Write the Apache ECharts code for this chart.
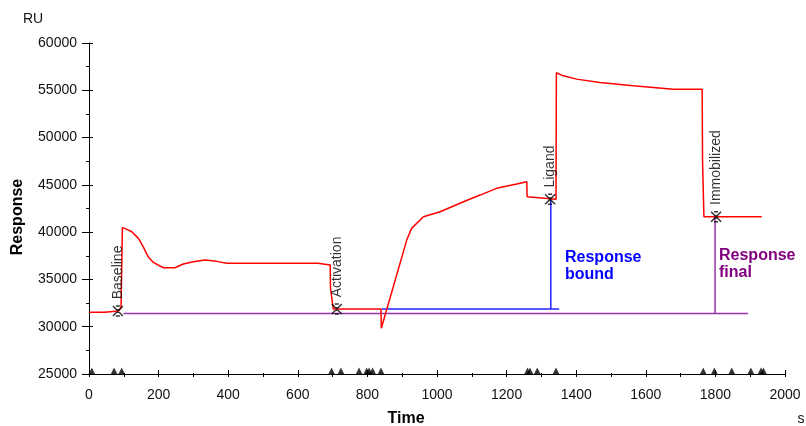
<!DOCTYPE html>
<html>
<head>
<meta charset="utf-8">
<script src="https://cdn.jsdelivr.net/npm/echarts@6/dist/echarts.min.js"></script>
<style>html,body{margin:0;padding:0;background:#fff}#c{width:806px;height:426px}</style>
</head>
<body>
<div id="c"></div>
<script>
// Sensorgram curve (time s, response RU)
var curveT = [0, 45, 46, 85, 92, 96, 103, 123, 142, 156, 170, 185, 204, 214, 247, 271, 300, 333, 367, 396, 658, 659, 693, 694, 702, 839, 840, 844, 913, 927, 961, 1009, 1076, 1124, 1171, 1229, 1258, 1259, 1342, 1343, 1358, 1401, 1468, 1564, 1679, 1762, 1763, 1766, 1767, 1933];
var curveR = [31520, 31520, 31660, 31660, 32000, 40460, 40400, 40040, 39340, 38450, 37400, 36800, 36420, 36240, 36240, 36630, 36870, 37050, 36910, 36700, 36700, 36520, 36520, 34060, 31870, 31870, 29830, 29830, 39160, 40400, 41630, 42160, 43210, 43920, 44630, 45080, 45330, 43740, 43470, 56850, 56600, 56180, 55830, 55470, 55120, 55120, 47620, 47620, 41630, 41630];
// Report point markers
var markNames = ['Baseline', 'Activation', 'Ligand', 'Immobilized'];
var markT = [83, 712, 1325, 1802];
var markR = [31660, 31870, 43470, 41630];
// Event triangles on the time axis
var eventT = [8, 72, 94, 697, 724, 776, 798, 805, 815, 839, 1260, 1267, 1288, 1342, 1765, 1797, 1847, 1902, 1931, 1938];
// Reference lines
var finalLevel = 31410, finalFrom = 99, finalTo = 1894, finalAtT = 1799, finalTop = 41630;
var boundLevel = 31870, boundFrom = 841, boundTo = 1351, boundAtT = 1327, boundTop = 43470;
var yTicks = {min: 25000, max: 60000, step: 5000};
var xTicks = {min: 0, max: 2000, step: 200};

var FF = '"Liberation Sans", Arial, sans-serif';
var chart = echarts.init(document.getElementById('c'), null, {renderer: 'canvas'});

function axisBase(type, inside, showLabel) {
  return {
    type: 'value',
    position: type === 'x' ? 'bottom' : 'left',
    min: type === 'x' ? xTicks.min : yTicks.min,
    max: type === 'x' ? xTicks.max : yTicks.max,
    interval: type === 'x' ? xTicks.step : yTicks.step,
    axisLine: {show: !inside, lineStyle: {color: '#000', width: 1}},
    axisTick: {show: true, inside: inside, length: inside ? 4 : (type === 'x' ? 3 : 7), lineStyle: {color: '#000', width: 1}},
    minorTick: {show: true, splitNumber: 2, length: inside ? 1 : 3, lineStyle: {color: '#000', width: 1}},
    splitLine: {show: false},
    axisLabel: {show: showLabel, color: '#111', fontFamily: FF, fontSize: 14, margin: type === 'x' ? 14 : 12,
      formatter: function (v) { return String(v); }},
    silent: true
  };
}

var curveData = curveT.map(function (t, i) { return [t, curveR[i]]; });
var markData = markT.map(function (t, i) { return {name: markNames[i], value: [t, markR[i]]}; });
var eventData = eventT.map(function (t) { return [t, yTicks.min]; });

chart.setOption({
  animation: false,
  grid: {left: 89, right: 21, top: 43, bottom: 52, containLabel: false},
  xAxis: [axisBase('x', false, true), axisBase('x', true, false)],
  yAxis: [axisBase('y', false, true), axisBase('y', true, false)],
  series: [
    {type: 'line', data: [[finalFrom, finalLevel], [finalTo, finalLevel]], symbol: 'none', lineStyle: {color: '#9933AA', width: 1.5}},
    {type: 'line', data: [[finalAtT, finalLevel], [finalAtT, finalTop]], symbol: 'none', lineStyle: {color: '#9933AA', width: 1.5}},
    {type: 'line', data: [[boundFrom, boundLevel], [boundTo, boundLevel]], symbol: 'none', lineStyle: {color: '#2222FF', width: 1.5}},
    {type: 'line', data: [[boundAtT, boundLevel], [boundAtT, boundTop]], symbol: 'none', lineStyle: {color: '#2222FF', width: 1.5}},
    {type: 'line', data: curveData, symbol: 'none', lineStyle: {color: '#FF0000', width: 1.5}, z: 3},
    {
      type: 'scatter', data: markData, z: 5,
      symbol: 'path://M0,0L10,10M10,0L0,10M3,0L7,0M3,10L7,10M5,3L5,7',
      symbolSize: 10,
      itemStyle: {color: 'rgba(0,0,0,0)', borderColor: '#000', borderWidth: 1.5},
      label: {
        show: true, position: 'top', distance: 5, rotate: 90,
        align: 'left', verticalAlign: 'middle', offset: [1, 0],
        formatter: function (p) { return p.name; },
        color: '#000', fontFamily: FF, fontSize: 14
      }
    },
    {
      type: 'scatter', data: eventData, clip: false, z: 6,
      symbol: 'triangle', symbolSize: [7, 7], symbolOffset: [0, -3],
      itemStyle: {color: '#000'}
    }
  ],
  graphic: [
    {type: 'text', style: {text: 'RU', x: 23, y: 19, font: '14px ' + FF, fill: '#111', textVerticalAlign: 'middle'}},
    {type: 'text', x: 18, y: 217, rotation: Math.PI / 2, style: {text: 'Response', x: 0, y: 0, font: 'bold 16px ' + FF, fill: '#000', textAlign: 'center', textVerticalAlign: 'middle'}},
    {type: 'text', style: {text: 'Time', x: 406, y: 419, font: 'bold 16px ' + FF, fill: '#000', textAlign: 'center', textVerticalAlign: 'middle'}},
    {type: 'text', style: {text: 's', x: 801, y: 419, font: '14px ' + FF, fill: '#111', textAlign: 'center', textVerticalAlign: 'middle'}},
    {type: 'text', style: {text: 'Response\nbound', x: 565, y: 249, font: 'bold 16px ' + FF, lineHeight: 17, fill: '#0000FF'}},
    {type: 'text', style: {text: 'Response\nfinal', x: 719, y: 247, font: 'bold 16px ' + FF, lineHeight: 17, fill: '#800080'}}
  ]
});
</script>
</body>
</html>
